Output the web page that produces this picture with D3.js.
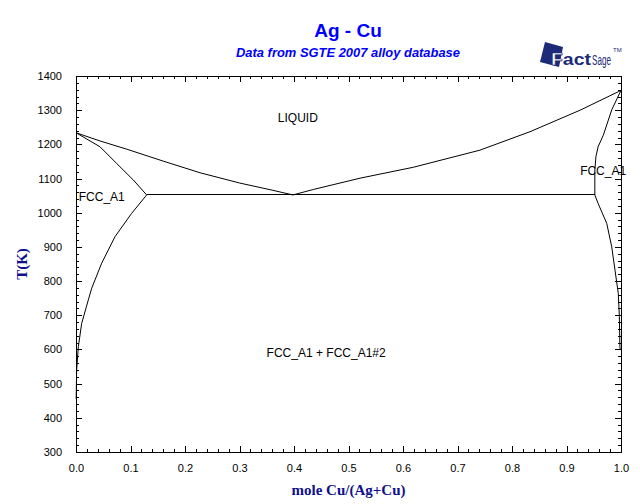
<!DOCTYPE html>
<html>
<head>
<meta charset="utf-8">
<script src="https://cdn.jsdelivr.net/npm/d3@7"></script>
<style>
  html, body { margin: 0; padding: 0; background: #fff; }
  svg { display: block; }
</style>
</head>
<body>
<div id="chart"></div>
<script>
// ---- data (x = mole Cu/(Ag+Cu), T in K) ----
const xTicks = [0.0, 0.1, 0.2, 0.3, 0.4, 0.5, 0.6, 0.7, 0.8, 0.9, 1.0];
const yTicks = [300, 400, 500, 600, 700, 800, 900, 1000, 1100, 1200, 1300, 1400];

const liquidusLeft = [[0, 1234], [0.044, 1210], [0.093, 1186], [0.16, 1151], [0.2275, 1117], [0.30, 1087], [0.36, 1066], [0.398, 1052]];
const solidusLeft = [[0, 1234], [0.044, 1193], [0.0747, 1144], [0.105, 1096], [0.1297, 1052]];
const solvusLeft = [[0.1297, 1052], [0.102, 998], [0.0716, 930], [0.047, 852], [0.0288, 779], [0.0226, 745], [0.0104, 676], [0.0043, 608], [0.0012, 540], [0.0003, 455]];
const liquidusRight = [[0.398, 1052], [0.4355, 1068], [0.521, 1101], [0.619, 1133], [0.741, 1183], [0.833, 1237], [0.925, 1300], [0.995, 1354], [1.0, 1358]];
const solidusRight = [[1.0, 1358], [0.983, 1301], [0.9676, 1227], [0.958, 1193], [0.954, 1164], [0.952, 1125], [0.952, 1052]];
const solvusRight = [[0.952, 1052], [0.958, 1027], [0.9738, 969], [0.983, 900], [0.989, 832], [0.995, 764], [0.997, 696], [0.998, 608], [0.9985, 600]];
const eutectic = [[0.1297, 1052], [0.952, 1052]];

const phaseLabels = [
  { text: "LIQUID", x: 0.407, T: 1277, anchor: "middle" },
  { text: "FCC_A1", x: 0.005, T: 1047, anchor: "start" },
  { text: "FCC_A1", x: 0.925, T: 1122, anchor: "start" },
  { text: "FCC_A1 + FCC_A1#2", x: 0.459, T: 590, anchor: "middle" }
];

// ---- layout ----
const W = 640, H = 504;
const pL = 76, pR = 621, pT = 76, pB = 452;
const SANS = "Arial, 'Liberation Sans', sans-serif";
const SERIF = "'Times New Roman', 'Liberation Serif', serif";

const svg = d3.select("#chart").append("svg").attr("width", W).attr("height", H)
  .attr("font-family", SANS);

const x = d3.scaleLinear().domain([0, 1]).range([pL, pR]);
const y = d3.scaleLinear().domain([300, 1400]).range([pB, pT]);

const xMinor = d3.range(0, 1.0001, 0.02).map(v => +v.toFixed(2));
const yMinor = d3.range(300, 1401, 20);

function axisG(gen, tx, ty) {
  const g = svg.append("g").attr("transform", `translate(${tx},${ty})`).call(gen);
  g.attr("font-family", SANS).attr("font-size", 11);
  g.select(".domain").remove();
  g.selectAll("line").attr("stroke", "#000").attr("shape-rendering", "crispEdges");
  g.selectAll("text").attr("fill", "#000");
  return g;
}

// minor ticks (inward)
axisG(d3.axisBottom(x).tickValues(xMinor).tickSize(-3).tickFormat(""), 0, pB);
axisG(d3.axisTop(x).tickValues(xMinor).tickSize(-3).tickFormat(""), 0, pT);
axisG(d3.axisLeft(y).tickValues(yMinor).tickSize(-3).tickFormat(""), pL, 0);
axisG(d3.axisRight(y).tickValues(yMinor).tickSize(-3).tickFormat(""), pR, 0);

// major ticks
axisG(d3.axisBottom(x).tickValues(xTicks).tickSize(-6).tickPadding(12).tickFormat(d3.format(".1f")), 0, pB);
axisG(d3.axisTop(x).tickValues(xTicks).tickSize(-6).tickFormat(""), 0, pT);
axisG(d3.axisLeft(y).tickValues(yTicks).tickSize(-6).tickPadding(14).tickFormat(d3.format("d")), pL, 0);
axisG(d3.axisRight(y).tickValues(yTicks).tickSize(-6).tickFormat(""), pR, 0);

// frame
svg.append("rect").attr("x", pL).attr("y", pT)
  .attr("width", pR - pL).attr("height", pB - pT)
  .attr("fill", "none").attr("stroke", "#000").attr("shape-rendering", "crispEdges");

// curves
const line = d3.line().x(d => x(d[0])).y(d => y(d[1]));
[liquidusLeft, solidusLeft, solvusLeft, liquidusRight, solidusRight, solvusRight].forEach(arr => {
  svg.append("path").attr("d", line(arr)).attr("fill", "none").attr("stroke", "#000").attr("stroke-width", 1);
});
svg.append("path").attr("d", line(eutectic)).attr("fill", "none").attr("stroke", "#000")
  .attr("stroke-width", 1).attr("shape-rendering", "crispEdges");

// phase labels
phaseLabels.forEach(l => {
  svg.append("text").attr("x", x(l.x)).attr("y", y(l.T)).attr("dy", "0.35em")
    .attr("text-anchor", l.anchor).attr("font-size", 12).attr("fill", "#000").text(l.text);
});

// titles
svg.append("text").attr("x", 348).attr("y", 37).attr("text-anchor", "middle")
  .attr("font-size", 19).attr("font-weight", "bold").attr("fill", "#0000ff").text("Ag - Cu");
svg.append("text").attr("x", 348).attr("y", 57).attr("text-anchor", "middle")
  .attr("font-size", 12).attr("font-weight", "bold").attr("font-style", "italic")
  .attr("fill", "#0000ff").attr("textLength", 224).attr("lengthAdjust", "spacingAndGlyphs")
  .text("Data from SGTE 2007 alloy database");

// axis titles
svg.append("text").attr("x", (pL + pR) / 2).attr("y", 495).attr("text-anchor", "middle")
  .attr("font-family", SERIF).attr("font-size", 15)
  .attr("font-weight", "bold").attr("fill", "#10108c").text("mole Cu/(Ag+Cu)");
svg.append("text").attr("transform", `translate(27,${(pT + pB) / 2}) rotate(-90)`)
  .attr("text-anchor", "middle")
  .attr("font-family", SERIF).attr("font-size", 15)
  .attr("font-weight", "bold").attr("fill", "#10108c").text("T(K)");

// FactSage logo
const logo = svg.append("g");
logo.append("polygon").attr("points", "545,42 563,47 559,67 540,62").attr("fill", "#1c2a78");
logo.append("text").attr("x", 551).attr("y", 65).attr("font-size", 17).attr("font-weight", 900)
  .attr("fill", "#1c2a78").attr("textLength", 40).attr("lengthAdjust", "spacingAndGlyphs")
  .html('<tspan fill="#fff" stroke="#1c2a78" stroke-width="0.6">F</tspan>act');
logo.append("text").attr("x", 592).attr("y", 65).attr("font-size", 14)
  .attr("font-family", "'Liberation Sans Narrow', Arial, sans-serif")
  .attr("fill", "#1c2a78").attr("textLength", 19).attr("lengthAdjust", "spacingAndGlyphs").text("Sage");
logo.append("text").attr("x", 613).attr("y", 52).attr("font-size", 6).attr("fill", "#1c2a78").text("TM");
</script>
</body>
</html>
